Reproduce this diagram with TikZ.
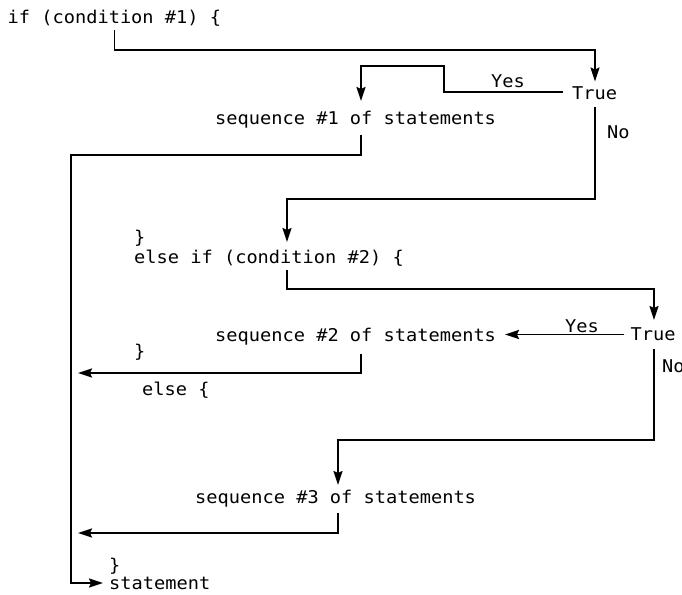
\documentclass[tikz,border=0pt]{standalone}
\usepackage{fontspec}
\usetikzlibrary{arrows.meta}
\newfontfamily\codefont[FakeStretch=1.06]{DejaVu Sans Mono}
\tikzset{
  code/.style={inner sep=0pt, anchor=base west, font=\codefont\fontsize{17.6}{20}\selectfont},
  flow/.style={line width=1.7pt},
  arr/.style={flow, -{Stealth[length=14pt,width=9pt,inset=2pt]}}
}
\begin{document}
\begin{tikzpicture}[x=1pt,y=-1pt]
\useasboundingbox (0,0) rectangle (682,594);
% texts
\node[code] (if1) at (7.5,23.5) {if (condition \#1) \{};
\node[code] (true1) at (572,99.3) {True};
\node[code] (yes1) at (491,87.3) {Yes};
\node[code] (no1) at (607,138.5) {No};
\node[code] (seq1) at (215,124.5) {sequence \#1 of statements};
\node[code] (cl1) at (134,243.5) {\}};
\node[code] (elif) at (134,263.3) {else if (condition \#2) \{};
\node[code] (true2) at (630.5,340.8) {True};
\node[code] (yes2) at (565,332) {Yes};
\node[code] (seq2) at (215,341) {sequence \#2 of statements};
\node[code] (cl2) at (134,357) {\}};
\node[code] (no2) at (662,372) {No};
\node[code] (else) at (142,395.5) {else \{};
\node[code] (seq3) at (195,503) {sequence \#3 of statements};
\node[code] (cl3) at (109,571.5) {\}};
\node[code] (stmt) at (109,589) {statement};
% connector points
\coordinate (a0) at (114.5,30);
\coordinate (a1) at (114.5,50);
\coordinate (a2) at (595,50);
\coordinate (a3) at (595,81.5);
\coordinate (b0) at (563,92);
\coordinate (b1) at (444,92);
\coordinate (b2) at (444,66);
\coordinate (b3) at (361,66);
\coordinate (b4) at (361,101);
\coordinate (c0) at (361,135);
\coordinate (c1) at (361,155);
\coordinate (c2) at (71,155);
\coordinate (c3) at (71,583);
\coordinate (c4) at (103,583);
\coordinate (d0) at (595,107);
\coordinate (d1) at (595,199);
\coordinate (d2) at (287,199);
\coordinate (d3) at (287,242);
\coordinate (e0) at (287,270);
\coordinate (e1) at (287,289);
\coordinate (e2) at (654,289);
\coordinate (e3) at (654,320);
\coordinate (f0) at (624,334.5);
\coordinate (f1) at (505,334.5);
\coordinate (g0) at (361,354);
\coordinate (g1) at (361,373);
\coordinate (g2) at (78,373);
\coordinate (h0) at (654,349);
\coordinate (h1) at (654,440);
\coordinate (h2) at (338,440);
\coordinate (h3) at (338,485);
\coordinate (i0) at (338,513);
\coordinate (i1) at (338,533);
\coordinate (i2) at (78,533);
% connectors
\draw[arr] (a0) -- (a1) -- (a2) -- (a3);
\draw[arr] (b0) -- (b1) -- (b2) -- (b3) -- (b4);
\draw[arr] (c0) -- (c1) -- (c2) -- (c3) -- (c4);
\draw[arr] (d0) -- (d1) -- (d2) -- (d3);
\draw[arr] (e0) -- (e1) -- (e2) -- (e3);
\draw[arr] (f0) -- (f1);
\draw[arr] (g0) -- (g1) -- (g2);
\draw[arr] (h0) -- (h1) -- (h2) -- (h3);
\draw[arr] (i0) -- (i1) -- (i2);
\end{tikzpicture}
\end{document}
